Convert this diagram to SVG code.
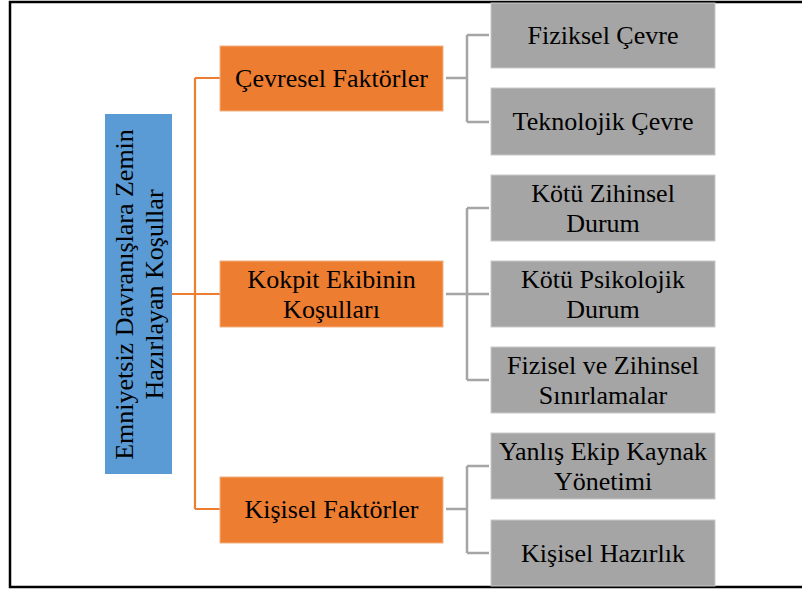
<svg xmlns="http://www.w3.org/2000/svg" width="802" height="592" viewBox="0 0 802 592">
<style>
.t{font-family:"Liberation Serif","Times New Roman",serif;font-size:26px;fill:#000;text-anchor:middle}
.o{fill:#ED7D31;stroke:#F4B183;stroke-width:1}
.g{fill:#A5A5A5;stroke:#C9C9C9;stroke-width:1}
.oc{fill:none;stroke:#ED7D31;stroke-width:2.2}
.gc{fill:none;stroke:#A5A5A5;stroke-width:2.5}
</style>
<rect x="0" y="0" width="802" height="592" fill="#fff"/>
<rect x="10" y="2" width="830" height="585" fill="none" stroke="#000" stroke-width="2.5"/>
<g id="connectors">
<path class="oc" d="M172 294H220M195 78V509M195 78H220M195 509H220"/>
<path class="gc" d="M446 78H467M467 35V122M467 35H489M467 122H489"/>
<path class="gc" d="M446 294H467M467 208V380M467 208H489M467 294H489M467 380H489"/>
<path class="gc" d="M446 509H467M467 466V553M467 466H489M467 553H489"/>
</g>
<g id="root">
<rect x="105" y="114" width="67" height="360" fill="#5B9BD5"/>
<text class="t" transform="translate(133 294.5) rotate(-90)" x="0" y="0">Emniyetsiz Davranışlara Zemin</text>
<text class="t" transform="translate(163 294.5) rotate(-90)" x="0" y="0">Hazırlayan Koşullar</text>
</g>
<g id="cevresel">
<rect class="o" x="220" y="46" width="223" height="65"/>
<text class="t" x="331.5" y="87">Çevresel Faktörler</text>
</g>
<g id="kokpit">
<rect class="o" x="220" y="261" width="223" height="66"/>
<text class="t"><tspan x="331.5" y="288">Kokpit Ekibinin</tspan><tspan x="331.5" y="318">Koşulları</tspan></text>
</g>
<g id="kisisel">
<rect class="o" x="220" y="477" width="223" height="66"/>
<text class="t" x="331.5" y="518">Kişisel Faktörler</text>
</g>
<g id="fiziksel">
<rect class="g" x="491" y="3" width="224" height="65"/>
<text class="t" x="603" y="44">Fiziksel Çevre</text>
</g>
<g id="teknolojik">
<rect class="g" x="491" y="88" width="224" height="67"/>
<text class="t" x="603" y="130">Teknolojik Çevre</text>
</g>
<g id="zihinsel">
<rect class="g" x="491" y="175" width="224" height="66"/>
<text class="t"><tspan x="603" y="202">Kötü Zihinsel</tspan><tspan x="603" y="232">Durum</tspan></text>
</g>
<g id="psikolojik">
<rect class="g" x="491" y="261" width="224" height="66"/>
<text class="t"><tspan x="603" y="288">Kötü Psikolojik</tspan><tspan x="603" y="318">Durum</tspan></text>
</g>
<g id="fizisel">
<rect class="g" x="491" y="347" width="224" height="66"/>
<text class="t"><tspan x="603" y="374">Fizisel ve Zihinsel</tspan><tspan x="603" y="404">Sınırlamalar</tspan></text>
</g>
<g id="ekip">
<rect class="g" x="491" y="433" width="224" height="66"/>
<text class="t"><tspan x="603" y="460">Yanlış Ekip Kaynak</tspan><tspan x="603" y="490">Yönetimi</tspan></text>
</g>
<g id="hazirlik">
<rect class="g" x="491" y="520" width="224" height="66"/>
<text class="t" x="603" y="562">Kişisel Hazırlık</text>
</g>
</svg>
